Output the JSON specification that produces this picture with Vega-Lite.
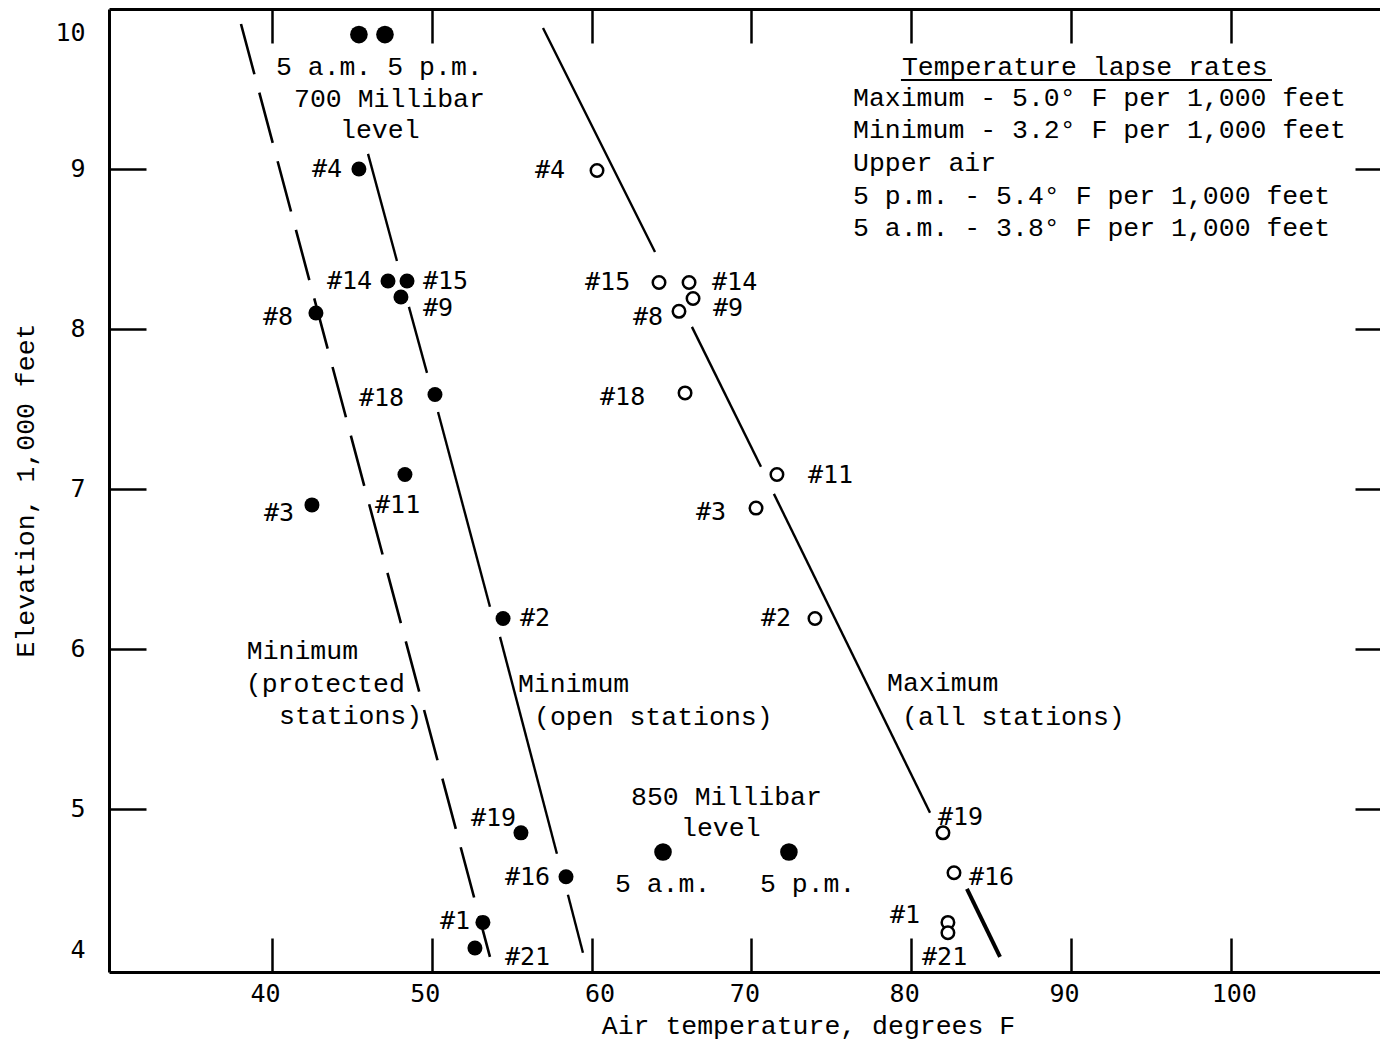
{
  "$schema": "https://vega.github.io/schema/vega-lite/v6.json",
  "width": 1271,
  "height": 963,
  "autosize": "none",
  "padding": {"left": 109, "top": 9, "right": 0, "bottom": 71},
  "background": "white",
  "config": {"view": {"stroke": null}},
  "datasets": {
    "points": [
      {"station": "5 a.m.", "series": "700 Millibar", "temp": 45.44, "elev": 9.84},
      {"station": "5 p.m.", "series": "700 Millibar", "temp": 47.07, "elev": 9.84},
      {"station": "5 a.m.", "series": "850 Millibar", "temp": 64.47, "elev": 4.73},
      {"station": "5 p.m.", "series": "850 Millibar", "temp": 72.35, "elev": 4.73},
      {"station": "#4", "series": "Minimum", "temp": 45.44, "elev": 9.0},
      {"station": "#14", "series": "Minimum", "temp": 47.26, "elev": 8.3},
      {"station": "#15", "series": "Minimum", "temp": 48.45, "elev": 8.3},
      {"station": "#9", "series": "Minimum", "temp": 48.07, "elev": 8.2},
      {"station": "#8", "series": "Minimum", "temp": 42.75, "elev": 8.1},
      {"station": "#18", "series": "Minimum", "temp": 50.2, "elev": 7.59},
      {"station": "#11", "series": "Minimum", "temp": 48.32, "elev": 7.09},
      {"station": "#3", "series": "Minimum", "temp": 42.5, "elev": 6.9},
      {"station": "#2", "series": "Minimum", "temp": 54.46, "elev": 6.19},
      {"station": "#19", "series": "Minimum", "temp": 55.58, "elev": 4.85},
      {"station": "#16", "series": "Minimum", "temp": 58.4, "elev": 4.575},
      {"station": "#1", "series": "Minimum", "temp": 53.2, "elev": 4.29},
      {"station": "#21", "series": "Minimum", "temp": 52.7, "elev": 4.13},
      {"station": "#4", "series": "Maximum", "temp": 60.34, "elev": 8.99},
      {"station": "#15", "series": "Maximum", "temp": 64.22, "elev": 8.29},
      {"station": "#14", "series": "Maximum", "temp": 66.1, "elev": 8.29},
      {"station": "#9", "series": "Maximum", "temp": 66.35, "elev": 8.19},
      {"station": "#8", "series": "Maximum", "temp": 65.47, "elev": 8.11},
      {"station": "#18", "series": "Maximum", "temp": 65.85, "elev": 7.6},
      {"station": "#11", "series": "Maximum", "temp": 71.6, "elev": 7.09},
      {"station": "#3", "series": "Maximum", "temp": 70.29, "elev": 6.88},
      {"station": "#2", "series": "Maximum", "temp": 73.98, "elev": 6.19},
      {"station": "#19", "series": "Maximum", "temp": 81.99, "elev": 4.85},
      {"station": "#16", "series": "Maximum", "temp": 82.68, "elev": 4.6},
      {"station": "#1", "series": "Maximum", "temp": 82.3, "elev": 4.29},
      {"station": "#21", "series": "Maximum", "temp": 82.3, "elev": 4.225}
    ],
    "tags": [
      {"label": "#4", "temp": 42.5, "elev": 9.0},
      {"label": "#14", "temp": 43.44, "elev": 8.3},
      {"label": "#15", "temp": 49.45, "elev": 8.3},
      {"label": "#9", "temp": 49.45, "elev": 8.131},
      {"label": "#8", "temp": 39.44, "elev": 8.075},
      {"label": "#18", "temp": 45.44, "elev": 7.569},
      {"label": "#11", "temp": 46.45, "elev": 6.9},
      {"label": "#3", "temp": 39.5, "elev": 6.85},
      {"label": "#2", "temp": 55.52, "elev": 6.194},
      {"label": "#19", "temp": 52.45, "elev": 4.944},
      {"label": "#16", "temp": 54.58, "elev": 4.575},
      {"label": "#1", "temp": 50.51, "elev": 4.3},
      {"label": "#21", "temp": 54.58, "elev": 4.075},
      {"label": "#4", "temp": 56.46, "elev": 8.994},
      {"label": "#15", "temp": 59.59, "elev": 8.294},
      {"label": "#14", "temp": 67.54, "elev": 8.294},
      {"label": "#9", "temp": 67.6, "elev": 8.131},
      {"label": "#8", "temp": 62.59, "elev": 8.075},
      {"label": "#18", "temp": 60.53, "elev": 7.575},
      {"label": "#11", "temp": 73.54, "elev": 7.0875},
      {"label": "#3", "temp": 66.53, "elev": 6.856},
      {"label": "#2", "temp": 70.6, "elev": 6.194},
      {"label": "#19", "temp": 81.68, "elev": 4.95},
      {"label": "#16", "temp": 83.62, "elev": 4.575},
      {"label": "#1", "temp": 78.67, "elev": 4.3375},
      {"label": "#21", "temp": 80.68, "elev": 4.075}
    ],
    "fits": [
      {"fit": "Minimum (protected stations)", "seg": "p", "temp": 38.06, "elev": 9.906},
      {"fit": "Minimum (protected stations)", "seg": "p", "temp": 53.64, "elev": 4.075},
      {"fit": "Minimum (open stations)", "seg": "o1", "temp": 46.01, "elev": 9.094},
      {"fit": "Minimum (open stations)", "seg": "o1", "temp": 47.82, "elev": 8.425},
      {"fit": "Minimum (open stations)", "seg": "o2", "temp": 48.57, "elev": 8.138},
      {"fit": "Minimum (open stations)", "seg": "o2", "temp": 49.7, "elev": 7.725},
      {"fit": "Minimum (open stations)", "seg": "o3", "temp": 50.39, "elev": 7.481},
      {"fit": "Minimum (open stations)", "seg": "o3", "temp": 53.64, "elev": 6.263},
      {"fit": "Minimum (open stations)", "seg": "o4", "temp": 54.27, "elev": 6.075},
      {"fit": "Minimum (open stations)", "seg": "o4", "temp": 57.83, "elev": 4.719},
      {"fit": "Minimum (open stations)", "seg": "o5", "temp": 58.52, "elev": 4.463},
      {"fit": "Minimum (open stations)", "seg": "o5", "temp": 59.46, "elev": 4.1},
      {"fit": "Maximum (all stations)", "seg": "m1", "temp": 56.96, "elev": 9.881},
      {"fit": "Maximum (all stations)", "seg": "m1", "temp": 63.97, "elev": 8.481},
      {"fit": "Maximum (all stations)", "seg": "m2", "temp": 66.28, "elev": 8.013},
      {"fit": "Maximum (all stations)", "seg": "m2", "temp": 70.6, "elev": 7.138},
      {"fit": "Maximum (all stations)", "seg": "m3", "temp": 71.41, "elev": 6.969},
      {"fit": "Maximum (all stations)", "seg": "m3", "temp": 81.18, "elev": 4.975},
      {"fit": "Maximum (all stations)", "seg": "m4", "temp": 83.49, "elev": 4.5},
      {"fit": "Maximum (all stations)", "seg": "m4", "temp": 85.56, "elev": 4.075}
    ],
    "notes": [
      {"text": "5 a.m. 5 p.m.", "temp": 40.25, "elev": 9.6375},
      {"text": "700 Millibar", "temp": 41.38, "elev": 9.4375},
      {"text": "level", "temp": 44.26, "elev": 9.244},
      {"text": "Temperature lapse rates", "temp": 79.42, "elev": 9.6375},
      {"text": "Maximum - 5.0° F per 1,000 feet", "temp": 76.36, "elev": 9.444},
      {"text": "Minimum - 3.2° F per 1,000 feet", "temp": 76.36, "elev": 9.244},
      {"text": "Upper air", "temp": 76.36, "elev": 9.0375},
      {"text": "5 p.m. - 5.4° F per 1,000 feet", "temp": 76.36, "elev": 8.831},
      {"text": "5 a.m. - 3.8° F per 1,000 feet", "temp": 76.36, "elev": 8.631},
      {"text": "Minimum", "temp": 38.42, "elev": 5.9875},
      {"text": "(protected", "temp": 38.36, "elev": 5.781},
      {"text": "stations)", "temp": 40.44, "elev": 5.581},
      {"text": "Minimum", "temp": 55.39, "elev": 5.781},
      {"text": "(open stations)", "temp": 56.4, "elev": 5.575},
      {"text": "Maximum", "temp": 78.49, "elev": 5.7875},
      {"text": "(all stations)", "temp": 79.43, "elev": 5.575},
      {"text": "850 Millibar", "temp": 62.47, "elev": 5.075},
      {"text": "level", "temp": 65.6, "elev": 4.881},
      {"text": "5 a.m.", "temp": 61.46, "elev": 4.531},
      {"text": "5 p.m.", "temp": 70.54, "elev": 4.531}
    ],
    "underline": [
      {"temp": 79.36, "temp2": 102.58, "elev": 9.556}
    ]
  },
  "resolve": {"axis": {"x": "independent", "y": "independent"}},
  "layer": [
    {
      "data": {"name": "fits"},
      "transform": [{"filter": "datum.fit == 'Minimum (open stations)' || (datum.fit == 'Maximum (all stations)' && datum.seg != 'm4')"}],
      "mark": {"type": "line", "stroke": "black", "strokeWidth": 2.4},
      "encoding": {
        "x": {
          "field": "temp", "type": "quantitative",
          "scale": {"domain": [29.8, 109.34], "nice": false, "zero": false},
          "axis": {
            "orient": "bottom", "values": [40, 50, 60, 70, 80, 90, 100], "ticks": false, "grid": false,
            "domain": true, "domainColor": "black", "domainWidth": 3,
            "labelFont": "DejaVu Sans Mono", "labelFontSize": 25, "labelColor": "black", "labelPadding": 9,
            "labelOffset": {"condition": [{"test": "datum.value == 60", "value": 8}, {"test": "datum.value == 100", "value": 3}], "value": -7},
            "title": "Air temperature, degrees F", "titleFont": "Liberation Mono", "titleFontSize": 26.5,
            "titleFontWeight": "normal", "titleColor": "black", "titleX": 699, "titleY": 53,
            "titleAlign": "center", "titleBaseline": "middle"
          }
        },
        "y": {
          "field": "elev", "type": "quantitative",
          "scale": {"domain": [3.98, 10.0], "nice": false, "zero": false},
          "axis": {
            "orient": "left", "values": [4, 5, 6, 7, 8, 9, 10], "ticks": false, "grid": false,
            "domain": true, "domainColor": "black", "domainWidth": 3,
            "labelFont": "DejaVu Sans Mono", "labelFontSize": 25, "labelColor": "black", "labelPadding": 24,
            "labelOffset": {"condition": [{"test": "datum.value == 10", "value": 23}, {"test": "datum.value == 4", "value": -19}], "value": 0},
            "title": "Elevation, 1,000 feet", "titleFont": "Liberation Mono", "titleFontSize": 26.5,
            "titleFontWeight": "normal", "titleColor": "black", "titleX": -84, "titleY": 481,
            "titleAngle": -90, "titleAlign": "center", "titleBaseline": "middle"
          }
        },
        "detail": {"field": "seg"}
      }
    },
    {
      "data": {"name": "fits"},
      "transform": [{"filter": "datum.fit == 'Minimum (protected stations)'"}],
      "mark": {"type": "line", "stroke": "black", "strokeWidth": 2.6, "strokeDash": [52, 19]},
      "encoding": {
        "x": {
          "field": "temp", "type": "quantitative",
          "scale": {"domain": [29.8, 109.34], "nice": false, "zero": false},
          "axis": {
            "orient": "bottom", "values": [40, 50, 60, 70, 80, 90, 100], "labels": false, "domain": false,
            "grid": false, "ticks": true, "tickSize": -34, "tickWidth": 2.5, "tickColor": "black", "title": null
          }
        },
        "y": {
          "field": "elev", "type": "quantitative",
          "scale": {"domain": [3.98, 10.0], "nice": false, "zero": false},
          "axis": {
            "orient": "left", "values": [5, 6, 7, 8, 9], "labels": false, "domain": false,
            "grid": false, "ticks": true, "tickSize": -37, "tickWidth": 2.5, "tickColor": "black", "title": null
          }
        }
      }
    },
    {
      "data": {"name": "fits"},
      "transform": [{"filter": "datum.seg == 'm4'"}],
      "mark": {"type": "line", "stroke": "black", "strokeWidth": 4},
      "encoding": {
        "x": {
          "field": "temp", "type": "quantitative",
          "scale": {"domain": [29.8, 109.34], "nice": false, "zero": false},
          "axis": {
            "orient": "top", "values": [40, 50, 60, 70, 80, 90, 100], "labels": false,
            "domain": true, "domainColor": "black", "domainWidth": 3,
            "grid": false, "ticks": true, "tickSize": -34, "tickWidth": 2.5, "tickColor": "black", "title": null
          }
        },
        "y": {
          "field": "elev", "type": "quantitative",
          "scale": {"domain": [3.98, 10.0], "nice": false, "zero": false},
          "axis": {
            "orient": "right", "values": [5, 6, 7, 8, 9], "labels": false, "domain": false,
            "grid": false, "ticks": true, "tickSize": -25, "tickWidth": 2.5, "tickColor": "black", "title": null
          }
        }
      }
    },
    {
      "data": {"name": "points"},
      "transform": [{"filter": "datum.series == 'Minimum'"}],
      "mark": {"type": "point", "shape": "circle", "filled": true, "color": "black", "opacity": 1, "size": 225},
      "encoding": {
        "x": {"field": "temp", "type": "quantitative", "scale": {"domain": [29.8, 109.34], "nice": false, "zero": false}, "axis": null},
        "y": {"field": "elev", "type": "quantitative", "scale": {"domain": [3.98, 10.0], "nice": false, "zero": false}, "axis": null}
      }
    },
    {
      "data": {"name": "points"},
      "transform": [{"filter": "datum.series == '700 Millibar' || datum.series == '850 Millibar'"}],
      "mark": {"type": "point", "shape": "circle", "filled": true, "color": "black", "opacity": 1, "size": 310},
      "encoding": {
        "x": {"field": "temp", "type": "quantitative", "scale": {"domain": [29.8, 109.34], "nice": false, "zero": false}, "axis": null},
        "y": {"field": "elev", "type": "quantitative", "scale": {"domain": [3.98, 10.0], "nice": false, "zero": false}, "axis": null}
      }
    },
    {
      "data": {"name": "points"},
      "transform": [{"filter": "datum.series == 'Maximum'"}],
      "mark": {"type": "point", "shape": "circle", "filled": false, "stroke": "black", "fill": "white", "fillOpacity": 1, "strokeWidth": 2.5, "opacity": 1, "size": 156},
      "encoding": {
        "x": {"field": "temp", "type": "quantitative", "scale": {"domain": [29.8, 109.34], "nice": false, "zero": false}, "axis": null},
        "y": {"field": "elev", "type": "quantitative", "scale": {"domain": [3.98, 10.0], "nice": false, "zero": false}, "axis": null}
      }
    },
    {
      "data": {"name": "tags"},
      "mark": {"type": "text", "font": "DejaVu Sans Mono", "fontSize": 25, "color": "black", "align": "left", "baseline": "middle"},
      "encoding": {
        "x": {"field": "temp", "type": "quantitative", "scale": {"domain": [29.8, 109.34], "nice": false, "zero": false}, "axis": null},
        "y": {"field": "elev", "type": "quantitative", "scale": {"domain": [3.98, 10.0], "nice": false, "zero": false}, "axis": null},
        "text": {"field": "label"}
      }
    },
    {
      "data": {"name": "notes"},
      "mark": {"type": "text", "font": "Liberation Mono", "fontSize": 26.5, "color": "black", "align": "left", "baseline": "middle"},
      "encoding": {
        "x": {"field": "temp", "type": "quantitative", "scale": {"domain": [29.8, 109.34], "nice": false, "zero": false}, "axis": null},
        "y": {"field": "elev", "type": "quantitative", "scale": {"domain": [3.98, 10.0], "nice": false, "zero": false}, "axis": null},
        "text": {"field": "text"}
      }
    },
    {
      "data": {"name": "underline"},
      "mark": {"type": "rule", "color": "black", "strokeWidth": 2},
      "encoding": {
        "x": {"field": "temp", "type": "quantitative", "scale": {"domain": [29.8, 109.34], "nice": false, "zero": false}, "axis": null},
        "x2": {"field": "temp2"},
        "y": {"field": "elev", "type": "quantitative", "scale": {"domain": [3.98, 10.0], "nice": false, "zero": false}, "axis": null}
      }
    }
  ]
}
